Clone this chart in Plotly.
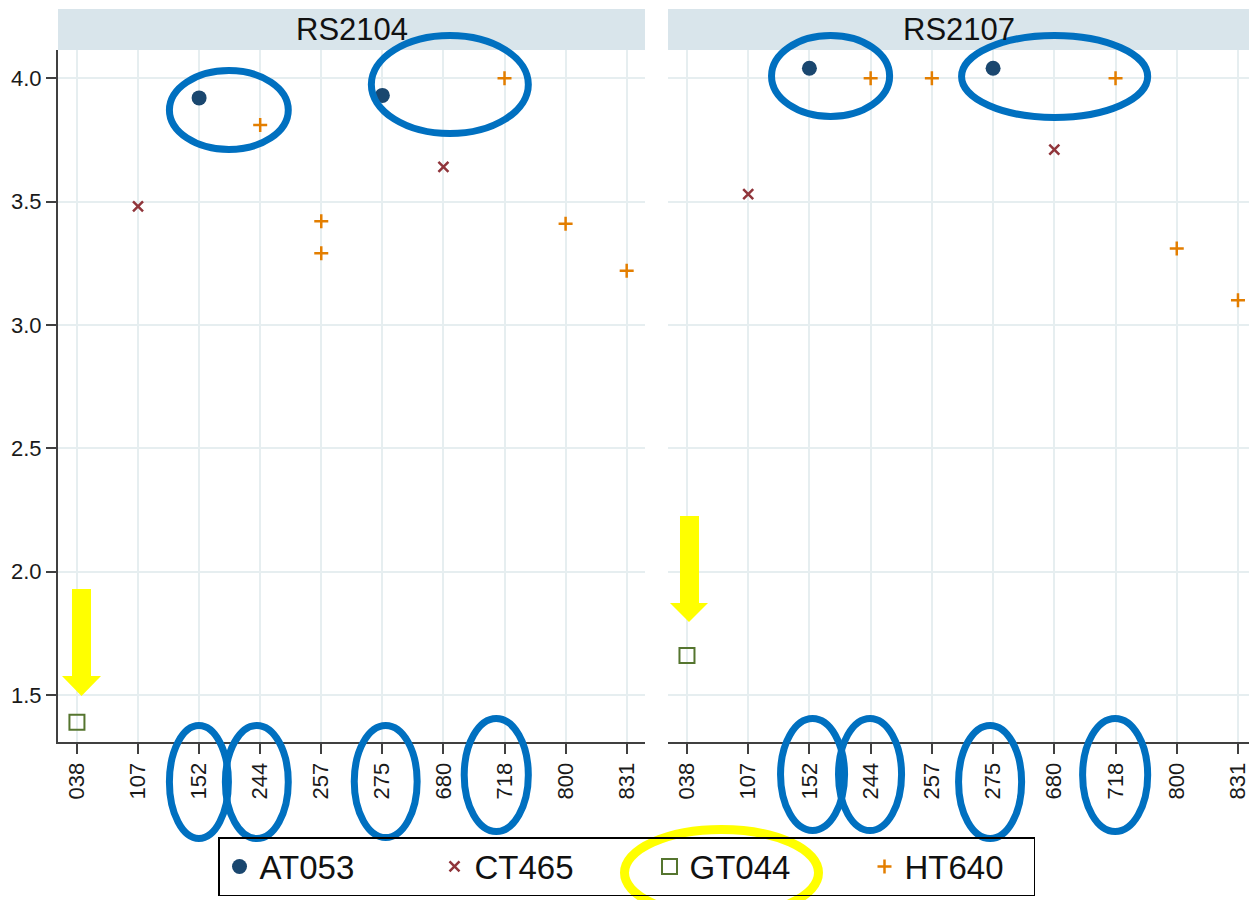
import plotly.graph_objects as go

# ---------------- data ----------------
categories = ["038", "107", "152", "244", "257", "275", "680", "718", "800", "831"]
panels = ["RS2104", "RS2107"]

at053_cat = ["152", "275"]
at053_rs2104 = [3.92, 3.93]
at053_rs2107 = [4.04, 4.04]

ct465_cat = ["107", "680"]
ct465_rs2104 = [3.48, 3.64]
ct465_rs2107 = [3.53, 3.71]

gt044_cat = ["038"]
gt044_rs2104 = [1.39]
gt044_rs2107 = [1.66]

ht640_rs2104_cat = ["244", "257", "257", "718", "800", "831"]
ht640_rs2104 = [3.81, 3.42, 3.29, 4.00, 3.41, 3.22]
ht640_rs2107_cat = ["244", "257", "718", "800", "831"]
ht640_rs2107 = [4.00, 4.00, 4.00, 3.31, 3.10]

y_ticks = [1.5, 2.0, 2.5, 3.0, 3.5, 4.0]

# ---------------- styles ----------------
NAVY = "#1a476f"
MAROON = "#90353b"
GREEN = "#55752f"
ORANGE = "#e37e00"
GRID = "#e6eef0"
AXIS = "#404040"
STRIP = "#d9e5eb"
BLUE = "#0070c0"
YELLOW = "#ffff00"
FONT = "Liberation Sans, Arial, sans-serif"

W, H = 1249, 900
ML, MT = 58, 50
MB = H - 742
MR = 0
PW, PH = W - ML - MR, H - MT - MB


def px(x):
    """reference pixel x -> paper"""
    return (x - ML) / PW


def py(y):
    """reference pixel y -> paper"""
    return (H - MB - y) / PH


series = [
    ("AT053", dict(symbol="circle", size=15, color=NAVY, line=dict(width=0)),
     [(at053_cat, at053_rs2104), (at053_cat, at053_rs2107)], None),
    ("CT465", dict(symbol="x-thin", size=10, color=MAROON, line=dict(width=2.5, color=MAROON)),
     [(ct465_cat, ct465_rs2104), (ct465_cat, ct465_rs2107)], None),
    ("GT044", dict(symbol="square-open", size=15, color=GREEN, line=dict(width=2, color=GREEN)),
     [(gt044_cat, gt044_rs2104), (gt044_cat, gt044_rs2107)], None),
    ("HT640", dict(symbol="cross-thin", size=10, color=ORANGE, line=dict(width=2.5, color=ORANGE)),
     [(ht640_rs2104_cat, ht640_rs2104), (ht640_rs2107_cat, ht640_rs2107)], 124),
]

fig = go.Figure()
for name, marker, data, lw in series:
    for i, (cx, vy) in enumerate(data):
        tr = go.Scatter(
            x=cx, y=vy, mode="markers", name=name, marker=marker,
            xaxis="x" if i == 0 else "x2", yaxis="y" if i == 0 else "y2",
            showlegend=(i == 0), legendgroup=name,
        )
        if lw is not None and i == 0:
            tr.legendwidth = lw
        fig.add_trace(tr)

xcommon = dict(
    type="category", categoryorder="array", categoryarray=categories,
    tickangle=-90, ticks="outside", ticklen=10, tickwidth=2, tickcolor=AXIS,
    showline=True, linecolor=AXIS, linewidth=2, showgrid=True, gridcolor=GRID,
    gridwidth=1.5, zeroline=False, tickfont=dict(size=22, color="#1a1a1a", family=FONT),
)
ycommon = dict(
    range=[1.31, 4.114], tickvals=y_ticks, ticktext=[f"{v:.1f}" for v in y_ticks],
    showgrid=True, gridcolor=GRID, gridwidth=1.5, zeroline=False,
)

fig.update_layout(
    width=W, height=H,
    margin=dict(l=ML, r=MR, t=MT, b=MB, pad=0, autoexpand=False),
    paper_bgcolor="white", plot_bgcolor="white",
    font=dict(family=FONT, color="#111111"),
    xaxis=dict(domain=[0, px(645)], range=[-0.31, 9.30], anchor="y", **xcommon),
    xaxis2=dict(domain=[px(668), 1], range=[-0.31, 9.18], anchor="y2", **xcommon),
    yaxis=dict(anchor="x", ticks="outside", ticklen=10, tickwidth=2, tickcolor=AXIS,
               showline=True, linecolor=AXIS, linewidth=2,
               tickfont=dict(size=22, color="#1a1a1a", family=FONT), **ycommon),
    yaxis2=dict(anchor="x2", matches="y", showticklabels=False, ticks="",
                showline=False, **ycommon),
    legend=dict(
        orientation="h", x=px(218), y=py(837), xanchor="left", yanchor="top",
        bordercolor="black", borderwidth=1.5, bgcolor="rgba(255,255,255,0)",
        font=dict(size=33, family=FONT, color="#111111"),
        entrywidth=170, traceorder="normal",
    ),
)

shapes = []
annotations = []
# panel strips
for xr, title in [("x", panels[0]), ("x2", panels[1])]:
    shapes.append(dict(type="rect", xref=f"{xr} domain", yref="paper",
                       x0=0, x1=1, y0=1, y1=py(9), fillcolor=STRIP,
                       line=dict(width=0), layer="below"))
    annotations.append(dict(text=title, xref=f"{xr} domain", yref="paper",
                            x=0.5, y=py(30), xanchor="center", yanchor="middle",
                            showarrow=False,
                            font=dict(size=31, family=FONT, color="#111111")))

# blue ellipses (category serial positions, paper heights)
blue_ellipses = [
    ("x", 1.514, 3.46, py(70.5), py(149.5)),
    ("x", 4.82, 7.39, py(35.5), py(133.5)),
    ("x2", 1.381, 3.31, py(35.5), py(116.5)),
    ("x2", 4.485, 7.525, py(35.5), py(117.5)),
    ("x", 1.514, 2.48, py(725.5), py(838.5)),
    ("x", 2.43, 3.46, py(725.5), py(838.5)),
    ("x", 4.54, 5.57, py(725.5), py(837.5)),
    ("x", 6.34, 7.39, py(718.5), py(831.5)),
    ("x2", 1.528, 2.574, py(718.5), py(830.5)),
    ("x2", 2.475, 3.505, py(718.5), py(830.5)),
    ("x2", 4.436, 5.466, py(725.5), py(838.5)),
    ("x2", 6.462, 7.525, py(718.5), py(831.5)),
]
for xr, x0, x1, y0, y1 in blue_ellipses:
    shapes.append(dict(type="circle", xref=xr, yref="paper", x0=x0, x1=x1,
                       y0=y0, y1=y1, line=dict(color=BLUE, width=7),
                       fillcolor="rgba(0,0,0,0)", layer="above"))

# yellow ellipse around legend entry
shapes.append(dict(type="circle", xref="paper", yref="paper",
                   x0=px(624.5), x1=px(818.5), y0=py(829.5), y1=py(916),
                   line=dict(color=YELLOW, width=9), layer="above"))


# yellow arrows
def arrow(x0, x1, top, base, tip, hx0, hx1):
    tipx = (hx0 + hx1) / 2
    pts = [(x0, top), (x1, top), (x1, base), (hx1, base), (tipx, tip), (hx0, base), (x0, base)]
    path = "M " + " L ".join(f"{px(a):.5f},{py(b):.5f}" for a, b in pts) + " Z"
    return dict(type="path", xref="paper", yref="paper", path=path,
                fillcolor=YELLOW, line=dict(width=0), layer="above")


shapes.append(arrow(72, 91, 589, 676, 696, 62, 101))
shapes.append(arrow(680, 699, 516, 603, 622, 670, 708))

fig.update_layout(shapes=shapes, annotations=annotations)

# remove the page's default body margin so the figure sits at the window origin
fig.write_html(
    "out.html",
    config={"displayModeBar": False},
    post_script="document.body.style.margin='0';document.body.style.overflow='hidden';",
)
